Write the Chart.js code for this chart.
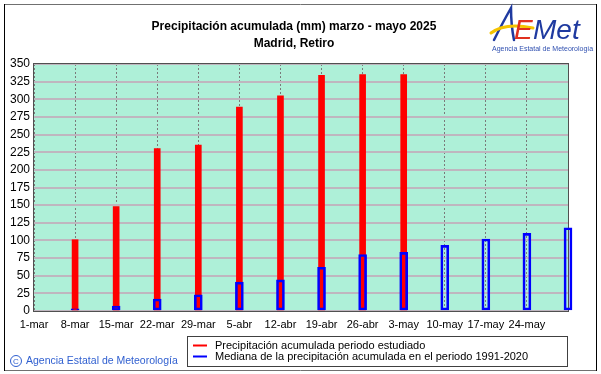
<!DOCTYPE html>
<html>
<head>
<meta charset="utf-8">
<script src="https://cdn.jsdelivr.net/npm/chart.js@4"></script>
<style>
html, body { margin: 0; padding: 0; background: #fff; }
canvas { display: block; }
</style>
</head>
<body>
<canvas id="grafico-precipitacion" width="601" height="374"></canvas>
<script>
// Datos
const fechas = ['1-mar', '8-mar', '15-mar', '22-mar', '29-mar', '5-abr', '12-abr', '19-abr', '26-abr', '3-may', '10-may', '17-may', '24-may', '31-may'];
const precipitacion = [null, 101, 148, 230, 235, 289, 305, 334, 335, 335, null, null, null, null];
const mediana = [null, 3, 7, 17, 23, 41, 44, 62, 80, 83, 93, 102, 110, 118];
const titulo = ['Precipitación acumulada (mm) marzo - mayo 2025', 'Madrid, Retiro'];
const leyenda = ['Precipitación acumulada periodo estudiado', 'Mediana de la precipitación acumulada en el periodo 1991-2020'];
const autor = 'Agencia Estatal de Meteorología';

const fuente = "'Liberation Sans', Arial, sans-serif";

// Fondo, marco, titulos, leyenda y logo
const decorado = {
    id: 'decorado',
    beforeDraw(chart) {
        const ctx = chart.ctx;
        const a = chart.chartArea;
        ctx.save();
        ctx.fillStyle = '#fff';
        ctx.fillRect(0, 0, chart.width, chart.height);
        ctx.fillStyle = '#aef0d8';
        ctx.fillRect(a.left, a.top, a.right - a.left, a.bottom - a.top);
        ctx.restore();
    },
    beforeDatasetsDraw(chart) {
        const ctx = chart.ctx;
        const a = chart.chartArea;
        ctx.save();
        ctx.strokeStyle = '#505050';
        ctx.lineWidth = 1;
        ctx.strokeRect(a.left - 0.5, a.top - 0.5, a.right - a.left + 1, a.bottom - a.top + 1);
        ctx.restore();
    },
    afterDraw(chart) {
        const ctx = chart.ctx;
        ctx.save();

        // marco exterior
        ctx.lineWidth = 1;
        ctx.strokeStyle = '#707070';
        ctx.beginPath();
        ctx.moveTo(4, 4.5); ctx.lineTo(597, 4.5);
        ctx.moveTo(4, 370.5); ctx.lineTo(597, 370.5);
        ctx.stroke();
        ctx.strokeStyle = '#000';
        ctx.beginPath();
        ctx.moveTo(4.5, 4); ctx.lineTo(4.5, 371);
        ctx.moveTo(596.5, 4); ctx.lineTo(596.5, 371);
        ctx.stroke();

        // titulo
        ctx.fillStyle = '#000';
        ctx.textAlign = 'center';
        ctx.textBaseline = 'middle';
        ctx.font = 'bold 12px ' + fuente;
        ctx.fillText(titulo[0], 294, 27);
        ctx.fillText(titulo[1], 294, 44);

        // leyenda
        ctx.fillStyle = '#fff';
        ctx.fillRect(187, 336, 380, 30);
        ctx.strokeStyle = '#404040';
        ctx.strokeRect(187.5, 336.5, 380, 30);
        const colores = chart.data.datasets.map(d => d.leyendaColor);
        ctx.font = '11px ' + fuente;
        ctx.textAlign = 'left';
        leyenda.forEach((txt, i) => {
            const y = 345.5 + i * 11;
            ctx.strokeStyle = colores[i];
            ctx.lineWidth = 2;
            ctx.beginPath();
            ctx.moveTo(193, y); ctx.lineTo(207, y);
            ctx.stroke();
            ctx.fillStyle = '#000';
            ctx.fillText(txt, 215, y);
        });

        // autoria
        ctx.strokeStyle = '#2f5fd0';
        ctx.fillStyle = '#2f5fd0';
        ctx.lineWidth = 1;
        ctx.beginPath();
        ctx.arc(16, 361, 5.5, 0, Math.PI * 2);
        ctx.stroke();
        ctx.font = '8px ' + fuente;
        ctx.textAlign = 'center';
        ctx.fillText('C', 16, 361.5);
        ctx.textAlign = 'left';
        ctx.font = '10.5px ' + fuente;
        ctx.fillText(autor, 26, 361.5);

        // logo
        ctx.lineCap = 'round';
        ctx.strokeStyle = '#1f3aa0';
        ctx.lineWidth = 2.5;
        ctx.beginPath();
        ctx.moveTo(494, 40);
        ctx.quadraticCurveTo(503, 22, 511, 8);
        ctx.quadraticCurveTo(511, 25, 514, 40);
        ctx.stroke();
        ctx.strokeStyle = '#f5c400';
        ctx.lineWidth = 3;
        ctx.beginPath();
        ctx.moveTo(491, 33);
        ctx.quadraticCurveTo(505, 22, 533, 28);
        ctx.stroke();
        ctx.font = 'italic 28px ' + fuente;
        ctx.textBaseline = 'alphabetic';
        ctx.fillStyle = '#e0301e';
        ctx.fillText('E', 514, 39);
        ctx.fillStyle = '#1f3aa0';
        ctx.fillText('Met', 533, 39);
        ctx.font = '7px ' + fuente;
        ctx.fillStyle = '#3050b0';
        ctx.fillText('Agencia Estatal de Meteorología', 492, 51);

        ctx.restore();
    }
};

new Chart(document.getElementById('grafico-precipitacion'), {
    type: 'bar',
    data: {
        labels: fechas,
        datasets: [
            {
                label: leyenda[0],
                data: precipitacion,
                backgroundColor: '#ff0000',
                borderWidth: 0,
                barThickness: 6,
                grouped: false,
                clip: false,
                order: 1,
                leyendaColor: '#ff0000'
            },
            {
                label: leyenda[1],
                data: mediana,
                backgroundColor: 'rgba(0,0,0,0)',
                borderColor: '#0000ff',
                borderWidth: 2,
                borderSkipped: false,
                barThickness: 8,
                grouped: false,
                clip: false,
                order: 0,
                leyendaColor: '#0000ff'
            }
        ]
    },
    options: {
        responsive: false,
        animation: false,
        events: [],
        layout: { padding: { top: 64, right: 33, left: 0, bottom: 0 } },
        plugins: {
            legend: { display: false },
            title: { display: false },
            tooltip: { enabled: false }
        },
        scales: {
            x: {
                offset: false,
                afterFit(scale) { scale.height = 63; },
                grid: { offset: false, color: '#7a7a7a', lineWidth: 1, drawTicks: false },
                border: { display: false, dash: [2, 2] },
                ticks: {
                    autoSkip: false,
                    maxRotation: 0,
                    padding: 7,
                    color: '#000',
                    font: { family: fuente, size: 11 },
                    callback(value, index) {
                        return index === fechas.length - 1 ? '' : fechas[index];
                    }
                }
            },
            y: {
                min: 0,
                max: 350,
                afterFit(scale) { scale.width = 34; },
                grid: { color: '#bfb6bf', lineWidth: 2, drawTicks: false },
                border: { display: false },
                ticks: {
                    stepSize: 25,
                    padding: 4,
                    color: '#000',
                    font: { family: fuente, size: 12 }
                }
            }
        }
    },
    plugins: [decorado]
});
</script>
</body>
</html>
